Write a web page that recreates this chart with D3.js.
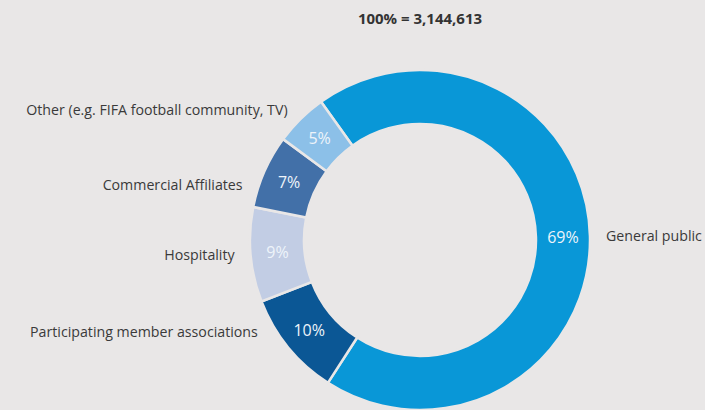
<!DOCTYPE html>
<html>
<head>
<meta charset="utf-8">
<script src="https://cdn.jsdelivr.net/npm/d3@7/dist/d3.min.js"></script>
<style>
  html, body { margin: 0; padding: 0; background: #e9e7e7; }
  svg { display: block; }
  text { font-family: "Open Sans", "Noto Sans", sans-serif; }
</style>
</head>
<body>
<svg id="chart" width="705" height="410"></svg>
<script>
// Ticket allocation by customer group (share of 3,144,613 tickets)
const categories = [
  "General public",
  "Participating member associations",
  "Hospitality",
  "Commercial Affiliates",
  "Other (e.g. FIFA football community, TV)"
];
const shares = [69, 10, 9, 7, 5];
const shareLabels = ["69%", "10%", "9%", "7%", "5%"];
const totalLabel = "100% = 3,144,613";

const colors = ["#0997d7", "#0b5795", "#c2cde4", "#4270a8", "#8cc0e8"];

const W = 705, H = 410;
const cx = 420, cy = 240;
const outerR = 170, innerR = 116, labelR = 186;

// small angular nudges (degrees) so the outside labels sit evenly down the left side
const labelNudge = {
  "Participating member associations": 9.9,
  "Hospitality": 0.4,
  "Commercial Affiliates": -6.3,
  "Other (e.g. FIFA football community, TV)": -0.8
};

const svg = d3.select("#chart");
svg.append("rect").attr("width", W).attr("height", H).attr("fill", "#e9e7e7");

svg.append("text")
  .attr("x", cx)
  .attr("y", 20)
  .attr("text-anchor", "middle")
  .attr("dominant-baseline", "middle")
  .attr("font-size", 15)
  .attr("font-weight", "bold")
  .attr("fill", "#333")
  .text(totalLabel);

const data = categories.map((c, i) => ({ category: c, value: shares[i], label: shareLabels[i], color: colors[i] }));

const start = -35.6 * Math.PI / 180;
const pie = d3.pie().sort(null).value(d => d.value)
  .startAngle(start).endAngle(start + 2 * Math.PI);
const arcs = pie(data);

const arc = d3.arc().innerRadius(innerR).outerRadius(outerR);

const g = svg.append("g").attr("transform", `translate(${cx},${cy})`);

g.selectAll("path.slice")
  .data(arcs)
  .join("path")
  .attr("class", "slice")
  .attr("d", arc)
  .attr("fill", d => d.data.color)
  .attr("stroke", "#e9e7e7")
  .attr("stroke-width", 2.5);

// percentage inside each slice
g.selectAll("text.pct")
  .data(arcs)
  .join("text")
  .attr("class", "pct")
  .attr("transform", d => `translate(${arc.centroid(d)})`)
  .attr("text-anchor", "middle")
  .attr("dominant-baseline", "central")
  .attr("font-size", 16)
  .attr("fill", "#eef4fa")
  .text(d => d.data.label);

// category names outside the ring
g.selectAll("text.cat")
  .data(arcs)
  .join("text")
  .attr("class", "cat")
  .each(function (d) {
    const mid = (d.startAngle + d.endAngle) / 2 + (labelNudge[d.data.category] || 0) * Math.PI / 180;
    const x = labelR * Math.sin(mid);
    const y = -labelR * Math.cos(mid);
    d3.select(this)
      .attr("x", x)
      .attr("y", y)
      .attr("text-anchor", x >= 0 ? "start" : "end");
  })
  .attr("dominant-baseline", "central")
  .attr("font-size", 14.2)
  .attr("fill", "#3a3a3a")
  .text(d => d.data.category);
</script>
</body>
</html>
